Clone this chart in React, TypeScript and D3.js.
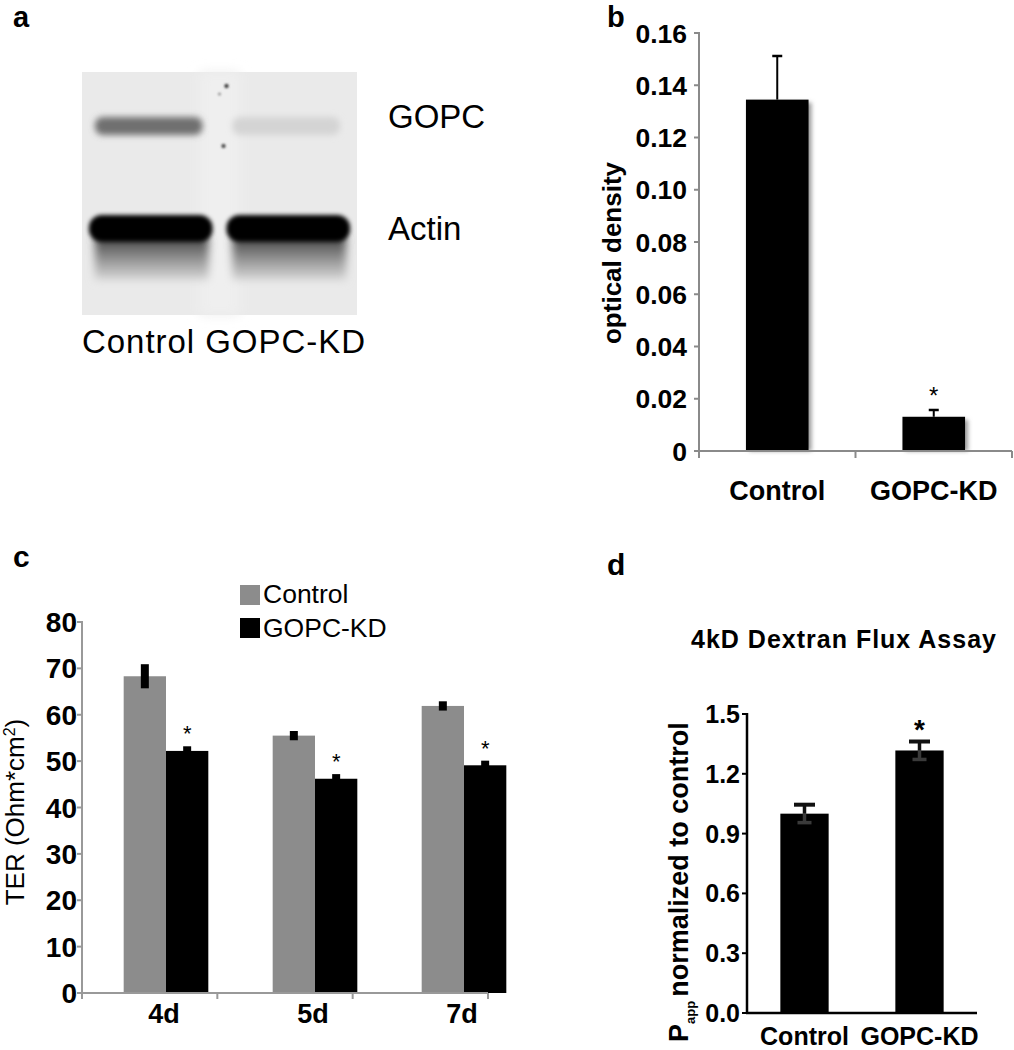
import React from "react";
import * as d3 from "d3";

const FONT = "'Liberation Sans', Arial, Helvetica, sans-serif";

// ---------- panel a (western blot) ----------
const blotLanes = ["Control", "GOPC-KD"];
const gopcIntensity = [0.52, 0.09];
const actinIntensity = [1.0, 1.0];
const blotProteins = ["GOPC", "Actin"];

// ---------- panel b ----------
const odCategories = ["Control", "GOPC-KD"];
const odValues = [0.1345, 0.0131];
const odErrors = [0.0167, 0.0026];
const odSignificant = [false, true];
const odTicks = [0, 0.02, 0.04, 0.06, 0.08, 0.1, 0.12, 0.14, 0.16];
const odTickLabels = ["0", "0.02", "0.04", "0.06", "0.08", "0.10", "0.12", "0.14", "0.16"];

// ---------- panel c ----------
const terDays = ["4d", "5d", "7d"];
const terSeries = ["Control", "GOPC-KD"];
const terControl = [68.3, 55.5, 61.9];
const terControlErr = [2.6, 1.0, 1.0];
const terKD = [52.2, 46.2, 49.1];
const terKDErr = [1.0, 1.0, 1.0];
const terTicks = [0, 10, 20, 30, 40, 50, 60, 70, 80];
const terColors = ["#8c8c8c", "#000000"];

// ---------- panel d ----------
const fluxCategories = ["Control", "GOPC-KD"];
const fluxValues = [1.0, 1.317];
const fluxErrors = [0.045, 0.045];
const fluxSignificant = [false, true];
const fluxTicks = [0, 0.3, 0.6, 0.9, 1.2, 1.5];
const fluxTickLabels = ["0.0", "0.3", "0.6", "0.9", "1.2", "1.5"];

function PanelA() {
  const blot = { x0: 82, x1: 357, y0: 72, y1: 315 };
  const laneX = d3.scaleBand().domain(blotLanes).range([blot.x0, blot.x1]).paddingInner(0.1).paddingOuter(0.05);
  const rowY = d3.scalePoint().domain(blotProteins).range([126, 228]);
  const shade = d3.interpolateRgb("#e9e9e9", "#000000");
  const bw = laneX.bandwidth();
  const gapX = (laneX("Control")! + bw + laneX("GOPC-KD")!) / 2;
  return (
    <g>
      <text x={13} y={27} fontFamily={FONT} fontWeight="bold" fontSize={29}>a</text>
      <rect x={blot.x0} y={blot.y0} width={blot.x1 - blot.x0} height={blot.y1 - blot.y0} fill="#eaeaea" />
      <rect x={gapX - 20} y={blot.y0} width={40} height={blot.y1 - blot.y0} fill="#efefef" filter="url(#blurA6)" />
      {blotLanes.map((lane, i) => {
        const lx = laneX(lane)!;
        const gy = rowY("GOPC")!;
        const ay = rowY("Actin")!;
        return (
          <g key={lane}>
            <rect x={lx + 6} y={gy - 9} width={bw - 16} height={18} rx={8}
              fill={shade(gopcIntensity[i])} filter="url(#blurA3)" />
            <rect x={lx + 6} y={ay + 8} width={bw - 10} height={44}
              fill="url(#smear)" filter="url(#blurA4)" />
            <rect x={lx} y={ay - 13} width={bw} height={27} rx={13}
              fill={shade(actinIntensity[i])} filter="url(#blurA2)" />
          </g>
        );
      })}
      <circle cx={gapX + 7} cy={blot.y0 + 14} r={2.2} fill="#444" filter="url(#blurA1)" />
      <circle cx={gapX} cy={blot.y0 + 22} r={1.6} fill="#999" filter="url(#blurA1)" />
      <circle cx={gapX + 4} cy={blot.y0 + 74} r={2.2} fill="#555" filter="url(#blurA1)" />
      {blotProteins.map((p) => (
        <text key={p} x={388} y={rowY(p)! + (p === "GOPC" ? 2 : 12)} fontFamily={FONT} fontSize={33}>{p}</text>
      ))}
      <text x={82} y={353} fontFamily={FONT} fontSize={33} textLength={283} lengthAdjust="spacing">
        {blotLanes.join(" ")}
      </text>
    </g>
  );
}

function PanelB() {
  const y = d3.scaleLinear().domain([0, 0.16]).range([451, 33]);
  const x = d3.scaleBand().domain(odCategories).range([699, 1012]);
  const barW = x.bandwidth() * 0.4;
  const axisColor = "#8a8a8a";
  return (
    <g fontFamily={FONT}>
      <text x={607} y={27} fontWeight="bold" fontSize={29}>b</text>
      {odCategories.map((c, i) => {
        const cx = x(c)! + x.bandwidth() / 2;
        const top = y(odValues[i]);
        const et = y(odValues[i] + odErrors[i]);
        return (
          <g key={c}>
            <rect x={cx - barW / 2 + 3} y={top + 3} width={barW} height={y(0) - top - 3} fill="#9a9a9a" filter="url(#blurA2)" />
            <rect x={cx - barW / 2} y={top} width={barW} height={y(0) - top} fill="#000" />
            <line x1={cx} x2={cx} y1={top} y2={et} stroke="#000" strokeWidth={2} />
            <line x1={cx - 5} x2={cx + 5} y1={et} y2={et} stroke="#000" strokeWidth={2.5} />
            {odSignificant[i] && (
              <text x={cx} y={et - 6} textAnchor="middle" fontSize={24}>*</text>
            )}
            <text x={cx} y={500} textAnchor="middle" fontWeight="bold" fontSize={27}>{c}</text>
          </g>
        );
      })}
      <line x1={699} x2={699} y1={y(0.16) - 1} y2={y(0)} stroke={axisColor} strokeWidth={2} />
      {odTicks.map((t, i) => (
        <g key={t}>
          <line x1={694} x2={699} y1={y(t)} y2={y(t)} stroke={axisColor} strokeWidth={2} />
          <text x={687} y={y(t)} dy="0.36em" textAnchor="end" fontWeight="bold" fontSize={26.5}>{odTickLabels[i]}</text>
        </g>
      ))}
      <line x1={698} x2={1012} y1={y(0)} y2={y(0)} stroke={axisColor} strokeWidth={2} />
      {[...odCategories.map((c) => x(c)!), 1012].map((tx, i) => (
        <line key={i} x1={tx} x2={tx} y1={y(0)} y2={y(0) + 7} stroke={axisColor} strokeWidth={2} />
      ))}
      <text transform={`translate(621,253) rotate(-90)`} textAnchor="middle" fontWeight="bold" fontSize={26}>optical density</text>
    </g>
  );
}

function PanelC() {
  const y = d3.scaleLinear().domain([0, 80]).range([993, 622]);
  const xAxis = d3.scaleBand().domain(terDays).range([82, 488]);
  const xGroup = d3.scaleBand().domain(terDays).range([91.5, 538.5]);
  const groupW = xGroup.bandwidth() * 0.568;
  const xs = d3.scaleBand().domain(terSeries).range([0, groupW]);
  const axisColor = "#999";
  const vals = [terControl, terKD];
  const errs = [terControlErr, terKDErr];
  return (
    <g fontFamily={FONT}>
      <text x={13} y={567} fontWeight="bold" fontSize={30}>c</text>
      {terDays.map((d, di) => {
        const gc = xGroup(d)! + xGroup.bandwidth() / 2;
        const g0 = gc - groupW / 2;
        return (
          <g key={d}>
            {terSeries.map((s, si) => {
              const v = vals[si][di];
              const e = errs[si][di];
              const bx = g0 + xs(s)!;
              const cx = bx + xs.bandwidth() / 2;
              return (
                <g key={s}>
                  <rect x={bx} y={y(v)} width={xs.bandwidth()} height={y(0) - y(v)} fill={terColors[si]} />
                  <line x1={cx} x2={cx} y1={y(v - e)} y2={y(v + e)} stroke="#000" strokeWidth={8} />
                  {si === 1 && (
                    <text x={cx} y={y(v + e) - 5} textAnchor="middle" fontSize={22}>*</text>
                  )}
                </g>
              );
            })}
            <text x={gc - 2} y={1023} textAnchor="middle" fontWeight="bold" fontSize={27}>{d}</text>
          </g>
        );
      })}
      <line x1={82} x2={82} y1={y(80) - 1} y2={y(0)} stroke={axisColor} strokeWidth={2} />
      {terTicks.map((t) => (
        <g key={t}>
          <line x1={77} x2={82} y1={y(t)} y2={y(t)} stroke={axisColor} strokeWidth={2} />
          <text x={77} y={y(t)} dy="0.36em" textAnchor="end" fontWeight="bold" fontSize={28}>{t}</text>
        </g>
      ))}
      <line x1={81} x2={488} y1={y(0)} y2={y(0)} stroke={axisColor} strokeWidth={2} />
      {[...terDays.map((d) => xAxis(d)!), 488].map((tx, i) => (
        <line key={i} x1={tx} x2={tx} y1={y(0)} y2={y(0) + 6} stroke={axisColor} strokeWidth={2} />
      ))}
      {terSeries.map((s, si) => (
        <g key={s}>
          <rect x={240} y={585 + si * 33} width={20} height={20} fill={terColors[si]} />
          <text x={263} y={603 + si * 34} fontSize={26.5}>{s}</text>
        </g>
      ))}
      <text transform={`translate(24,812) rotate(-90)`} textAnchor="middle" fontSize={26}>
        TER (Ohm*cm<tspan dy={-9} fontSize={16}>2</tspan><tspan dy={9}>)</tspan>
      </text>
    </g>
  );
}

function PanelD() {
  const y = d3.scaleLinear().domain([0, 1.5]).range([1013, 714]);
  const x = d3.scaleBand().domain(fluxCategories).range([747, 977]);
  const barW = x.bandwidth() * 0.42;
  return (
    <g fontFamily={FONT}>
      <text x={607} y={575} fontWeight="bold" fontSize={30}>d</text>
      <text x={844} y={648} textAnchor="middle" fontWeight="bold" fontSize={25} letterSpacing={1}>4kD Dextran Flux Assay</text>
      {fluxCategories.map((c, i) => {
        const cx = x(c)! + x.bandwidth() / 2;
        const v = fluxValues[i];
        const e = fluxErrors[i];
        return (
          <g key={c}>
            <rect x={cx - barW / 2} y={y(v)} width={barW} height={y(0) - y(v)} fill="#000" />
            <line x1={cx} x2={cx} y1={y(v - e)} y2={y(v)} stroke="#3a3a3a" strokeWidth={3.5} />
            <line x1={cx - 7} x2={cx + 7} y1={y(v - e)} y2={y(v - e)} stroke="#3a3a3a" strokeWidth={3.5} />
            <line x1={cx} x2={cx} y1={y(v)} y2={y(v + e)} stroke="#111" strokeWidth={3.5} />
            <line x1={cx - 10.5} x2={cx + 10.5} y1={y(v + e)} y2={y(v + e)} stroke="#111" strokeWidth={4} />
            {fluxSignificant[i] && (
              <text x={cx} y={y(v + e) - 3} textAnchor="middle" fontWeight="bold" fontSize={28}>*</text>
            )}
            <text x={cx} y={1045} textAnchor="middle" fontWeight="bold" fontSize={25}>{c}</text>
          </g>
        );
      })}
      <line x1={747} x2={747} y1={y(1.5) - 1} y2={y(0) + 1} stroke="#000" strokeWidth={2.5} />
      {fluxTicks.map((t, i) => (
        <g key={t}>
          <line x1={742} x2={747} y1={y(t)} y2={y(t)} stroke="#000" strokeWidth={2} />
          <text x={740} y={y(t)} dy="0.36em" textAnchor="end" fontWeight="bold" fontSize={25}>{fluxTickLabels[i]}</text>
        </g>
      ))}
      <line x1={746} x2={977} y1={y(0)} y2={y(0)} stroke="#000" strokeWidth={2.5} />
      <text transform={`translate(688,1042) rotate(-90)`} fontWeight="bold" fontSize={27}>
        P<tspan dy={7} fontSize={13}>app</tspan><tspan dy={-7} dx={4}>normalized to control</tspan>
      </text>
    </g>
  );
}

export default function App() {
  return (
    <svg width={1014} height={1050} viewBox="0 0 1014 1050"
      style={{ position: "absolute", left: 0, top: 0, display: "block", background: "#fff" }}>
      <defs>
        <filter id="blurA1" x="-100%" y="-100%" width="300%" height="300%"><feGaussianBlur stdDeviation={0.8} /></filter>
        <filter id="blurA2" x="-20%" y="-50%" width="140%" height="200%"><feGaussianBlur stdDeviation={2.2} /></filter>
        <filter id="blurA3" x="-20%" y="-80%" width="140%" height="260%"><feGaussianBlur stdDeviation={3} /></filter>
        <filter id="blurA4" x="-20%" y="-50%" width="140%" height="200%"><feGaussianBlur stdDeviation={4} /></filter>
        <filter id="blurA6" x="-50%" y="-10%" width="200%" height="120%"><feGaussianBlur stdDeviation={6} /></filter>
        <linearGradient id="smear" x1="0" y1="0" x2="0" y2="1">
          <stop offset="0" stopColor="#3c3c3c" />
          <stop offset="0.5" stopColor="#8f8f8f" />
          <stop offset="1" stopColor="#d8d8d8" />
        </linearGradient>
      </defs>
      <rect x={0} y={0} width={1014} height={1050} fill="#fff" />
      <PanelA />
      <PanelB />
      <PanelC />
      <PanelD />
    </svg>
  );
}
